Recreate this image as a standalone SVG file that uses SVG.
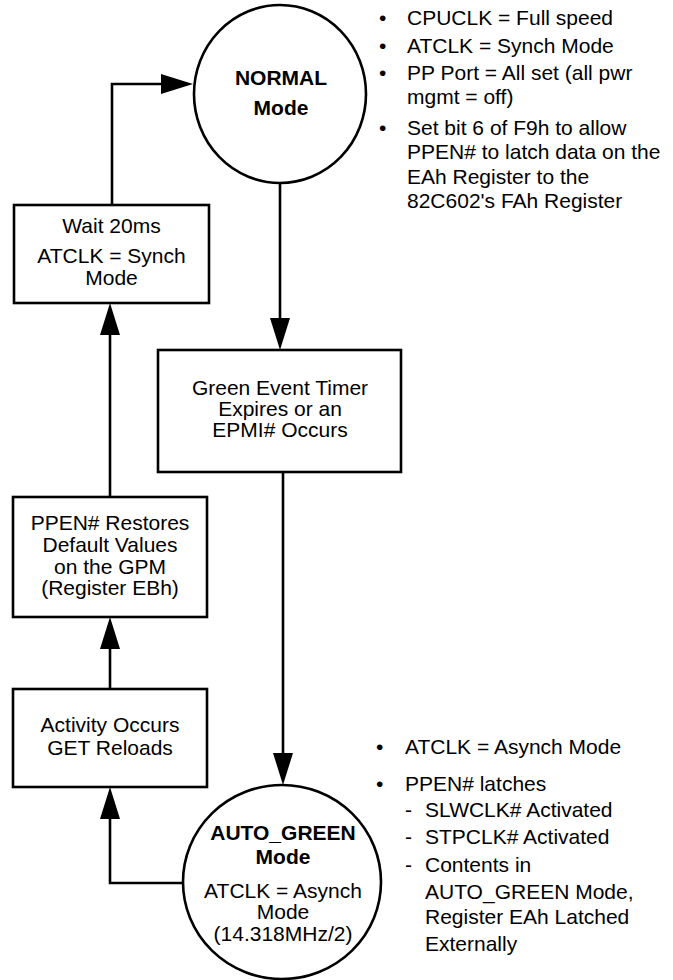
<svg xmlns="http://www.w3.org/2000/svg" width="673" height="980" viewBox="0 0 673 980">
<defs>
<style>
text{font-family:"Liberation Sans",Arial,sans-serif;font-size:21px;fill:#000}
.c{text-anchor:middle}
.b{font-weight:bold}
.box{fill:#fff;stroke:#000;stroke-width:2.6}
.conn{fill:none;stroke:#000;stroke-width:2.6}
</style>
<marker id="ah" markerUnits="userSpaceOnUse" markerWidth="32" markerHeight="20" refX="24" refY="10" orient="auto" viewBox="0 0 32 20">
<path d="M0,0 L32,10 L0,20 z" fill="#000"/>
</marker>
</defs>
<rect width="673" height="980" fill="#fff"/>

<g id="connectors">
<polyline class="conn" points="112,205 112,84 185,84" marker-end="url(#ah)"/>
<polyline class="conn" points="280,183 280,342" marker-end="url(#ah)"/>
<polyline class="conn" points="283,472 283,777" marker-end="url(#ah)"/>
<polyline class="conn" points="183,883 110,883 110,795" marker-end="url(#ah)"/>
<polyline class="conn" points="110,689 110,625" marker-end="url(#ah)"/>
<polyline class="conn" points="110,497 110,311" marker-end="url(#ah)"/>
</g>

<g id="normal">
<ellipse class="box" cx="280" cy="94" rx="86" ry="89"/>
<text class="c b" x="281" y="85">NORMAL</text>
<text class="c b" x="281" y="115">Mode</text>
</g>

<g id="normal-notes">
<text x="379" y="25">•</text><text x="407" y="25">CPUCLK = Full speed</text>
<text x="379" y="53">•</text><text x="407" y="53">ATCLK = Synch Mode</text>
<text x="379" y="80">•</text><text x="407" y="80">PP Port = All set (all pwr</text>
<text x="407" y="104">mgmt = off)</text>
<text x="379" y="135">•</text><text x="407" y="135">Set bit 6 of F9h to allow</text>
<text x="407" y="159">PPEN# to latch data on the</text>
<text x="407" y="184">EAh Register to the</text>
<text x="407" y="208">82C602's FAh Register</text>
</g>

<g id="wait">
<rect class="box" x="14" y="205" width="195" height="98"/>
<text class="c" x="111.5" y="233">Wait 20ms</text>
<text class="c" x="111.5" y="263">ATCLK = Synch</text>
<text class="c" x="111.5" y="285">Mode</text>
</g>

<g id="green-event">
<rect class="box" x="158" y="350" width="243" height="122"/>
<text class="c" x="280" y="395">Green Event Timer</text>
<text class="c" x="280" y="416">Expires or an</text>
<text class="c" x="280" y="437">EPMI# Occurs</text>
</g>

<g id="ppen-restores">
<rect class="box" x="13" y="497" width="194" height="120"/>
<text class="c" x="110" y="530">PPEN# Restores</text>
<text class="c" x="110" y="552">Default Values</text>
<text class="c" x="110" y="574">on the GPM</text>
<text class="c" x="110" y="595">(Register EBh)</text>
</g>

<g id="activity">
<rect class="box" x="13" y="689" width="194" height="98"/>
<text class="c" x="110" y="732">Activity Occurs</text>
<text class="c" x="110" y="755">GET Reloads</text>
</g>

<g id="auto-green">
<ellipse class="box" cx="282" cy="882" rx="99" ry="97"/>
<text class="c b" x="283" y="840">AUTO_GREEN</text>
<text class="c b" x="283" y="864">Mode</text>
<text class="c" x="283" y="898">ATCLK = Asynch</text>
<text class="c" x="283" y="919">Mode</text>
<text class="c" x="283" y="941">(14.318MHz/2)</text>
</g>

<g id="auto-green-notes">
<text x="376" y="754">•</text><text x="405" y="754">ATCLK = Asynch Mode</text>
<text x="376" y="791">•</text><text x="405" y="791">PPEN# latches</text>
<text x="405" y="817">-</text><text x="425" y="817">SLWCLK# Activated</text>
<text x="405" y="844">-</text><text x="425" y="844">STPCLK# Activated</text>
<text x="405" y="872">-</text><text x="425" y="872">Contents in</text>
<text x="425" y="899">AUTO_GREEN Mode,</text>
<text x="425" y="924">Register EAh Latched</text>
<text x="425" y="951">Externally</text>
</g>
</svg>
